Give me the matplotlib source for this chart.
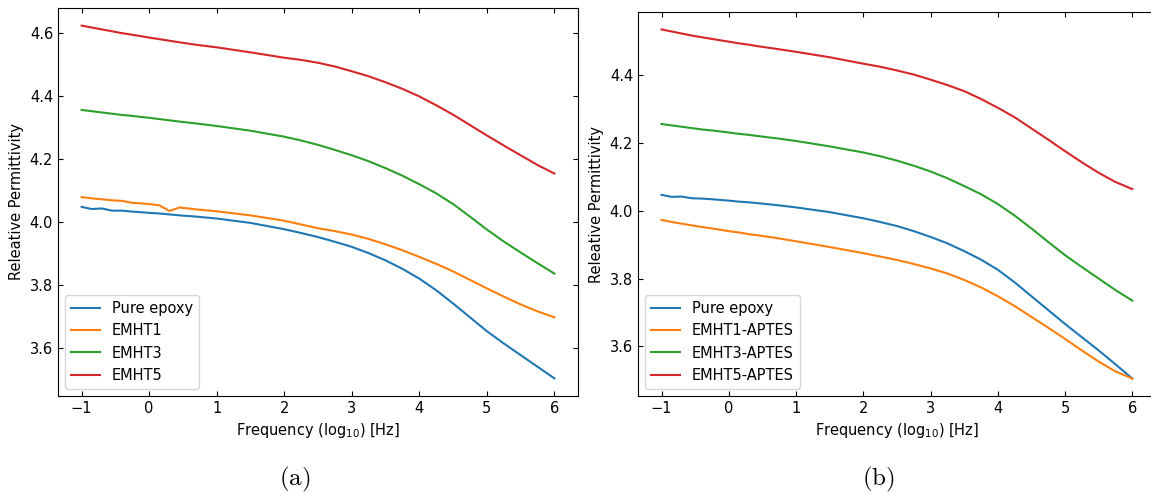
import numpy as np
from matplotlib import pyplot as plt

# log10 of frequency [Hz]
freq_log = [-1, -0.85, -0.7, -0.55, -0.4, -0.25, 0, 0.15, 0.3, 0.45, 0.7, 1, 1.5,
            2, 2.25, 2.5, 2.75, 3, 3.25, 3.5, 3.75, 4, 4.25, 4.5, 4.75, 5, 5.25, 5.5, 5.75, 6]

# (a) untreated fillers
labels_a = ["Pure epoxy", "EMHT1", "EMHT3", "EMHT5"]
pure_epoxy = [4.048, 4.041, 4.043, 4.036, 4.036, 4.033, 4.029, 4.027, 4.024, 4.021, 4.017, 4.011, 3.997,
              3.977, 3.965, 3.952, 3.937, 3.921, 3.901, 3.878, 3.851, 3.820, 3.783, 3.741, 3.697,
              3.653, 3.614, 3.577, 3.540, 3.503]
emht1 = [4.079, 4.075, 4.072, 4.069, 4.067, 4.061, 4.057, 4.053, 4.035, 4.046, 4.040, 4.034, 4.021,
         4.004, 3.992, 3.980, 3.971, 3.960, 3.946, 3.929, 3.910, 3.889, 3.867, 3.843, 3.816,
         3.789, 3.763, 3.738, 3.716, 3.697]
emht3 = [4.356, 4.352, 4.348, 4.344, 4.340, 4.337, 4.331, 4.327, 4.323, 4.319, 4.313, 4.305, 4.290,
         4.271, 4.259, 4.245, 4.229, 4.212, 4.193, 4.171, 4.147, 4.120, 4.091, 4.057, 4.017,
         3.976, 3.938, 3.903, 3.869, 3.836]
emht5 = [4.624, 4.618, 4.612, 4.606, 4.600, 4.595, 4.586, 4.581, 4.576, 4.571, 4.563, 4.555, 4.539,
         4.522, 4.515, 4.506, 4.494, 4.479, 4.463, 4.444, 4.423, 4.399, 4.371, 4.341, 4.308,
         4.275, 4.243, 4.212, 4.181, 4.154]

# (b) APTES treated fillers
labels_b = ["Pure epoxy", "EMHT1-APTES", "EMHT3-APTES", "EMHT5-APTES"]
pure_epoxy_b = [4.047, 4.041, 4.042, 4.037, 4.036, 4.034, 4.030, 4.027, 4.025, 4.022, 4.017, 4.010, 3.996,
                3.978, 3.967, 3.955, 3.940, 3.923, 3.904, 3.881, 3.856, 3.826, 3.789, 3.748, 3.707,
                3.666, 3.627, 3.588, 3.547, 3.505]
emht1_aptes = [3.973, 3.967, 3.962, 3.957, 3.952, 3.948, 3.940, 3.936, 3.931, 3.927, 3.920, 3.910, 3.893,
               3.875, 3.865, 3.855, 3.843, 3.830, 3.815, 3.796, 3.774, 3.748, 3.719, 3.687, 3.655,
               3.622, 3.588, 3.555, 3.526, 3.505]
emht3_aptes = [4.256, 4.252, 4.248, 4.244, 4.240, 4.237, 4.231, 4.227, 4.224, 4.220, 4.214, 4.206, 4.190,
               4.172, 4.161, 4.148, 4.133, 4.116, 4.096, 4.073, 4.049, 4.020, 3.986, 3.948, 3.908,
               3.869, 3.834, 3.800, 3.766, 3.735]
emht5_aptes = [4.535, 4.529, 4.523, 4.517, 4.512, 4.507, 4.499, 4.494, 4.490, 4.485, 4.478, 4.469, 4.453,
               4.434, 4.425, 4.414, 4.402, 4.387, 4.371, 4.353, 4.330, 4.304, 4.276, 4.243, 4.210,
               4.176, 4.143, 4.112, 4.085, 4.064]

plt.rcParams['mathtext.fontset'] = 'dejavusans'
fs = 10.5

fig = plt.figure(figsize=(11.51, 4.96), dpi=100)
ax1 = fig.add_axes([0.0504, 0.2016, 0.4518, 0.7823])
ax2 = fig.add_axes([0.5543, 0.2016, 0.4499, 0.7742])

for ax, series, labels in [(ax1, [pure_epoxy, emht1, emht3, emht5], labels_a),
                           (ax2, [pure_epoxy_b, emht1_aptes, emht3_aptes, emht5_aptes], labels_b)]:
    for vals, lab in zip(series, labels):
        ax.plot(freq_log, vals, label=lab, lw=1.5)
    ax.tick_params(direction="in", top=True, right=True, labelsize=fs)
    ax.set_xlabel(r"Frequency (log$_{10}$) [Hz]", fontsize=fs)
    ax.set_ylabel("Releative Permittivity", fontsize=fs)
    ax.legend(loc="lower left", fontsize=fs)

ax1.set_yticks([3.6, 3.8, 4.0, 4.2, 4.4, 4.6])
ax2.set_yticks([3.6, 3.8, 4.0, 4.2, 4.4])

# sub-figure captions
fig.text(0.2563, 0.022, r"$\mathrm{(a)}$", fontsize=18, ha="center",
         math_fontfamily="cm")
fig.text(0.7628, 0.022, r"$\mathrm{(b)}$", fontsize=18, ha="center",
         math_fontfamily="cm")

plt.savefig("out.png", dpi=100)
